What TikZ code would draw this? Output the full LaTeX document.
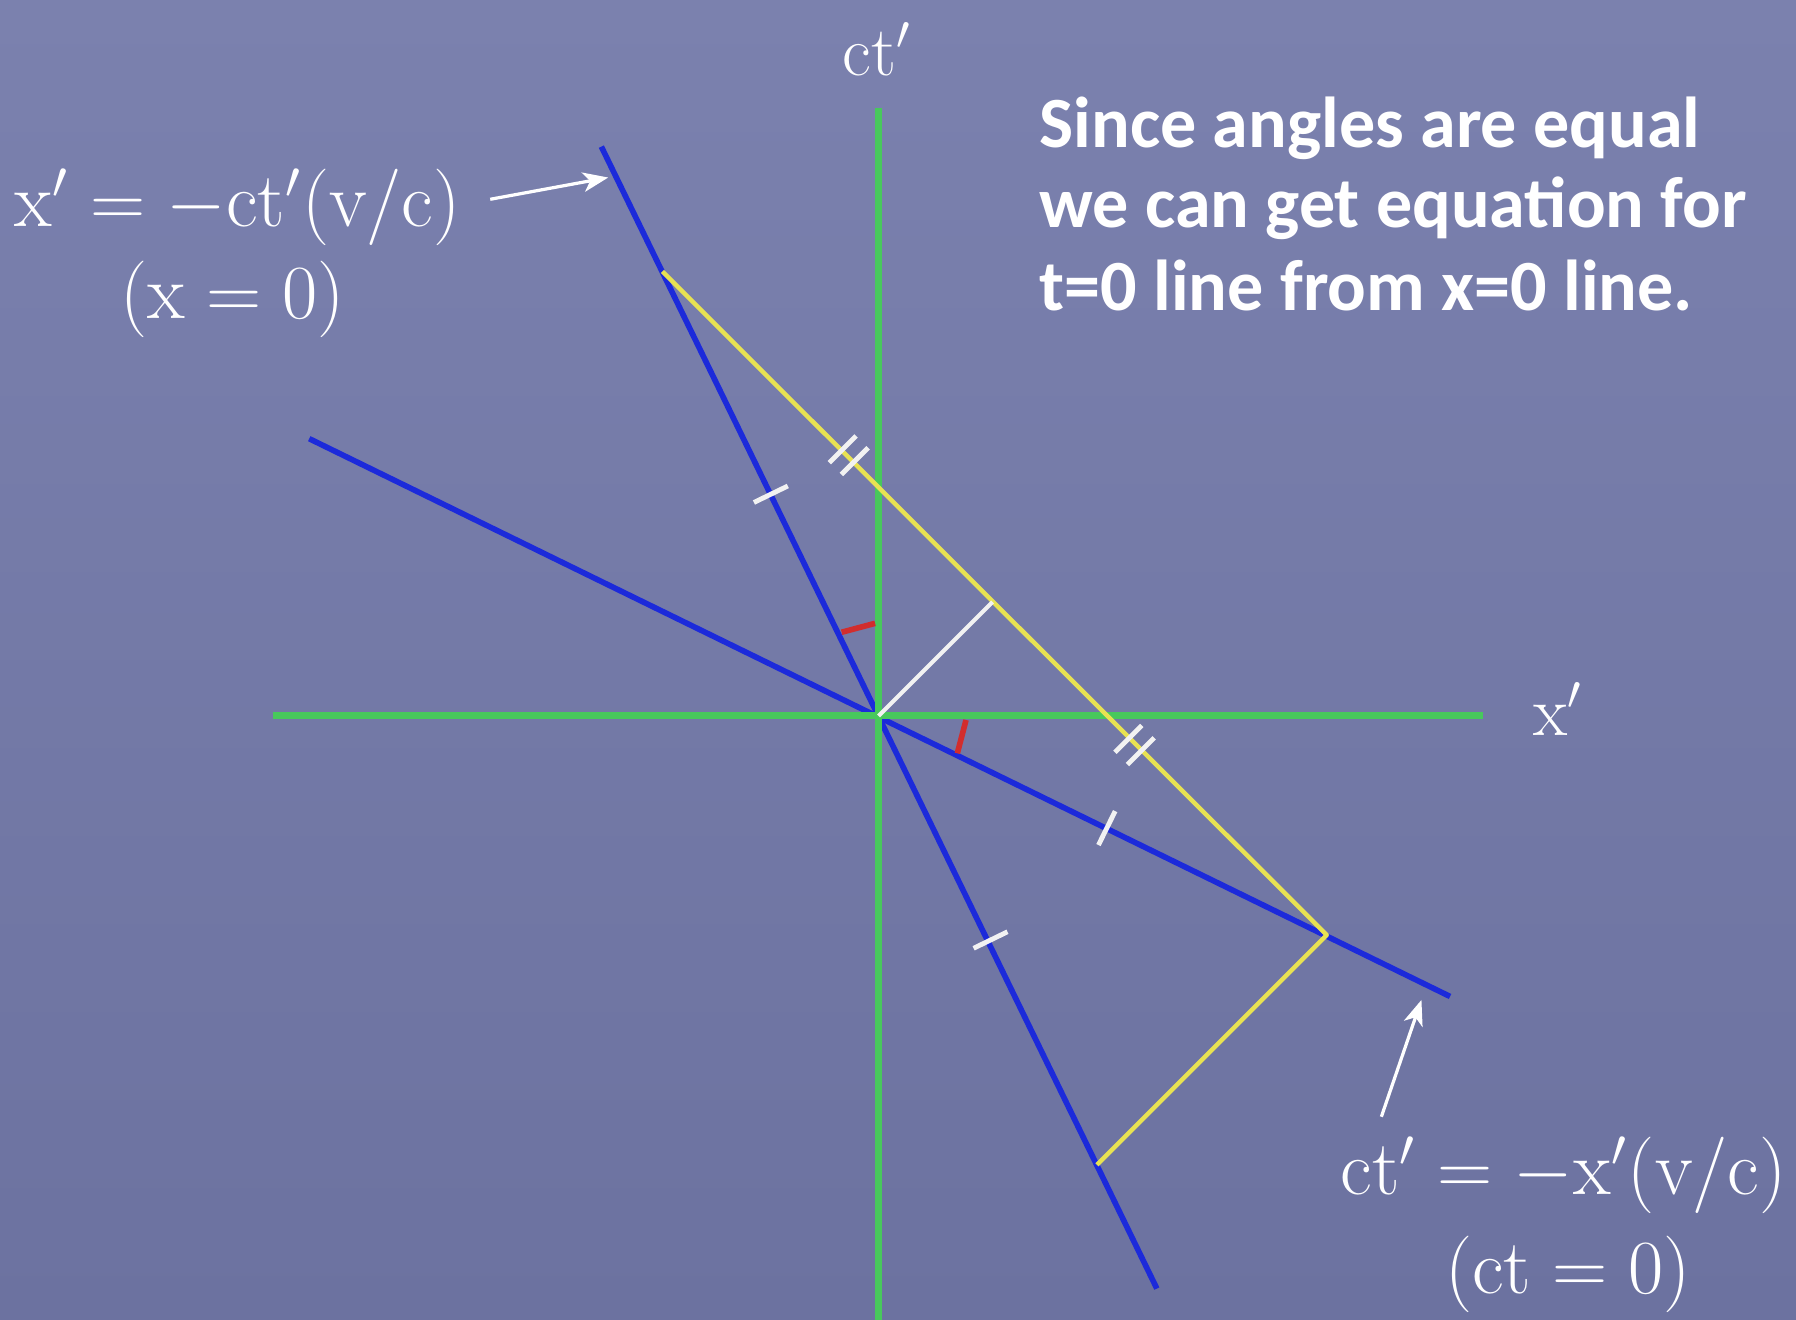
\documentclass[tikz,border=0pt]{standalone}
\usepackage{fontspec}
\usepackage{graphicx}
\newfontfamily\chalk{Carlito}
\usetikzlibrary{arrows.meta}
\definecolor{bgtop}{RGB}{123,129,174}
\definecolor{bgbot}{RGB}{108,114,160}
\definecolor{axgreen}{RGB}{72,200,92}
\definecolor{lnblue}{RGB}{28,42,218}
\definecolor{lnyellow}{RGB}{232,226,82}
\definecolor{mkred}{RGB}{210,45,45}
\definecolor{mkwhite}{RGB}{242,242,242}
\newcommand{\bigeq}[1]{\scalebox{1.1}{$#1$}}
\begin{document}
\begin{tikzpicture}[x=0.01cm,y=-0.01cm,
  axis/.style={draw=axgreen,line width=1.7pt},
  bline/.style={draw=lnblue,line width=1.4pt},
  yline/.style={draw=lnyellow,line width=1.1pt,line join=round},
  perp/.style={draw=mkwhite,line width=1pt},
  tickmark/.style={draw=mkwhite,line width=1.2pt},
  anglemark/.style={draw=mkred,line width=1.4pt},
  pointer/.style={draw=white,line width=0.8pt,-{Stealth[length=0.22cm,width=0.17cm,inset=0.06cm]}},
  axlbl/.style={text=white,font=\fontsize{17.5}{21}\selectfont,inner sep=0pt,anchor=base},
  mathlbl/.style={text=white,font=\fontsize{17.5}{21}\selectfont,inner sep=0pt,anchor=base},
  chalktxt/.style={text=white,font=\chalk\bfseries\fontsize{17.9}{20}\selectfont,inner sep=0pt,anchor=base west}]

\useasboundingbox (0,0) rectangle (1568,1152);
\shade[top color=bgtop,bottom color=bgbot] (0,0) rectangle (1568,1152);

% key points
\coordinate (O) at (767,625);
\coordinate (vtop) at (767,94);
\coordinate (vbot) at (767,1152);
\coordinate (hl) at (238,625);
\coordinate (hr) at (1295,625);
\coordinate (A) at (525,128);
\coordinate (B) at (1010,1125);
\coordinate (C) at (270,383);
\coordinate (D) at (1266,870);
\coordinate (P) at (578.3,237);
\coordinate (Q) at (1158.3,816.3);
\coordinate (R) at (957.7,1016.9);
\coordinate (F) at (866.5,525.5);

% blue lines
\draw[bline] (A) -- (B);
\draw[bline] (C) -- (D);
% axes
\draw[axis] (vtop) -- (vbot);
\draw[axis] (hl) -- (hr);
% yellow
\draw[yline] (P) -- (Q) -- (R);
% white perpendicular
\draw[perp] (O) -- (F);

% single ticks
\draw[tickmark] (658.2,438.7) -- (687.8,424.3);
\draw[tickmark] (850,827.9) -- (879.6,813.5);
\draw[tickmark] (959,737.8) -- (973.6,708.2);
% double ticks
\draw[tickmark] (724,404) -- (747.4,380.6);
\draw[tickmark] (734.5,414.3) -- (757.9,390.9);
\draw[tickmark] (973.4,656.8) -- (996.8,633.4);
\draw[tickmark] (984.3,667.5) -- (1007.7,644.1);
% angle marks
\draw[anglemark] (734.8,552) -- (764,544.2);
\draw[anglemark] (843.4,628.6) -- (835.8,657.7);

% labels
\node[axlbl] (ctlab) at (766,65.5) {$\mathrm{ct}'$};
\node[axlbl] (xlab) at (1360,641.7) {$\mathrm{x}'$};
\node[mathlbl] (eqa) at (207.5,198) {\bigeq{\mathrm{x}'=-\mathrm{ct}'(\mathrm{v}/\mathrm{c})}};
\node[mathlbl] (eqab) at (203,278) {\bigeq{(\mathrm{x}=0)}};
\node[mathlbl] (eqb) at (1365,1043) {\bigeq{\mathrm{ct}'=-\mathrm{x}'(\mathrm{v}/\mathrm{c})}};
\node[mathlbl] (eqbb) at (1369,1129) {\bigeq{(\mathrm{ct}=0)}};

% pointers
\coordinate (p1tail) at (428,174);
\coordinate (p1tip) at (531,155);
\coordinate (p2tail) at (1206,975);
\coordinate (p2tip) at (1241,873);
\draw[pointer] (p1tail) -- (p1tip);
\draw[pointer] (p2tail) -- (p2tip);

% note
\node[chalktxt] (t1) at (907,129) {Since angles are equal};
\node[chalktxt] (t2) at (907,199) {we can get equation for};
\node[chalktxt] (t3) at (907,271) {t=0 line from x=0 line.};
\end{tikzpicture}
\end{document}
